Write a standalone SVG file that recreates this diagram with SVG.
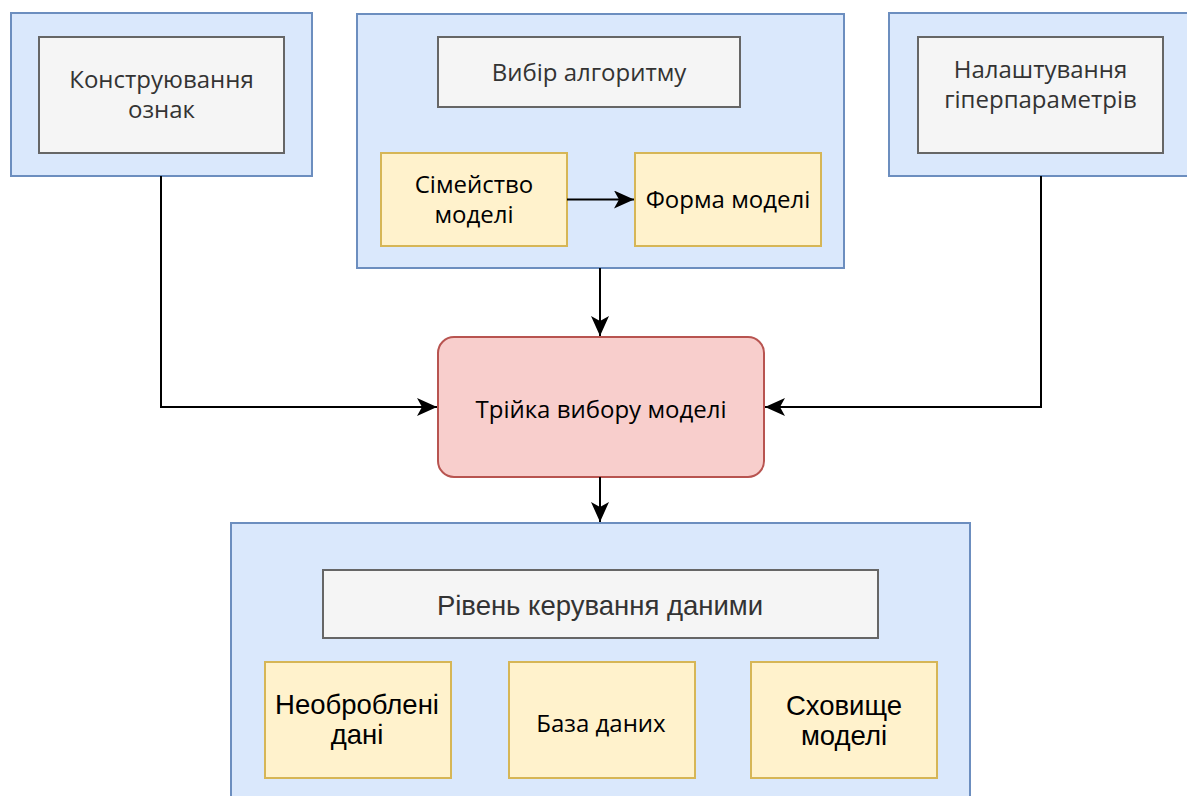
<svg xmlns="http://www.w3.org/2000/svg" width="1187" height="796" viewBox="0 0 1187 796">
<style>
.cont{fill:#dae8fc;stroke:#6c8ebf;stroke-width:2}
.gray{fill:#f5f5f5;stroke:#666666;stroke-width:2}
.yel{fill:#fff2cc;stroke:#d6b656;stroke-width:2}
.red{fill:#f8cecc;stroke:#b85450;stroke-width:2}
.t{font-family:"Open Sans","Noto Sans",sans-serif;font-size:24px;text-anchor:middle}
.a{font-family:"Liberation Sans",Arial,sans-serif;font-size:27.5px;text-anchor:middle}
.g{fill:#333333}
.k{fill:#000000}
.edge{fill:none;stroke:#000;stroke-width:2}
</style>
<defs>
<marker id="arr" markerUnits="userSpaceOnUse" markerWidth="22" markerHeight="20" refX="20" refY="9" orient="auto" viewBox="0 0 22 20">
<path d="M0,0 L20,9 L0,18 L5,9 Z" fill="#000"/>
</marker>
</defs>
<rect width="1187" height="796" fill="#ffffff"/>
<g id="feature-engineering">
<rect class="cont" x="11" y="13" width="301" height="163"/>
<rect class="gray" x="39" y="37" width="245" height="116"/>
<text class="t g" x="161.5" y="88">Конструювання</text>
<text class="t g" x="161.5" y="118">ознак</text>
</g>
<g id="algorithm-selection">
<rect class="cont" x="357" y="14" width="487" height="254"/>
<rect class="gray" x="438" y="37" width="302" height="70"/>
<text class="t g" x="589" y="81">Вибір алгоритму</text>
</g>
<g id="model-family">
<rect class="yel" x="381" y="153" width="186" height="93"/>
<text class="t k" x="474" y="193">Сімейство</text>
<text class="t k" x="474" y="223">моделі</text>
</g>
<g id="model-form">
<rect class="yel" x="635" y="153" width="186" height="93"/>
<text class="t k" x="728" y="208">Форма моделі</text>
</g>
<g id="hyperparameters">
<rect class="cont" x="889" y="13" width="302" height="163"/>
<rect class="gray" x="918" y="37" width="245" height="116"/>
<text class="t g" x="1040.5" y="78">Налаштування</text>
<text class="t g" x="1040.5" y="108">гіперпараметрів</text>
</g>
<g id="triple">
<rect class="red" x="438" y="337" width="326" height="140" rx="16" ry="16"/>
<text class="t k" x="601" y="418">Трійка вибору моделі</text>
</g>
<g id="data-layer">
<rect class="cont" x="231" y="523" width="739" height="290"/>
<rect class="gray" x="323" y="570" width="555" height="68"/>
<text class="a g" x="600" y="615">Рівень керування даними</text>
</g>
<g id="raw-data">
<rect class="yel" x="265" y="662" width="186" height="116"/>
<text class="a k" x="357" y="714">Необроблені</text>
<text class="a k" x="357" y="744">дані</text>
</g>
<g id="database">
<rect class="yel" x="509" y="662" width="186" height="116"/>
<text class="t k" x="601" y="732">База даних</text>
</g>
<g id="model-store">
<rect class="yel" x="751" y="662" width="186" height="116"/>
<text class="a k" x="844" y="715">Сховище</text>
<text class="a k" x="844" y="745">моделі</text>
</g>
<g id="connectors">
<path class="edge" d="M567,199.5 L634,199.5" marker-end="url(#arr)"/>
<path class="edge" d="M600,268 L600,336" marker-end="url(#arr)"/>
<path class="edge" d="M161,176 L161,407 L437,407" marker-end="url(#arr)"/>
<path class="edge" d="M1041,176 L1041,407 L765,407" marker-end="url(#arr)"/>
<path class="edge" d="M600,477 L600,522" marker-end="url(#arr)"/>
</g>
</svg>
